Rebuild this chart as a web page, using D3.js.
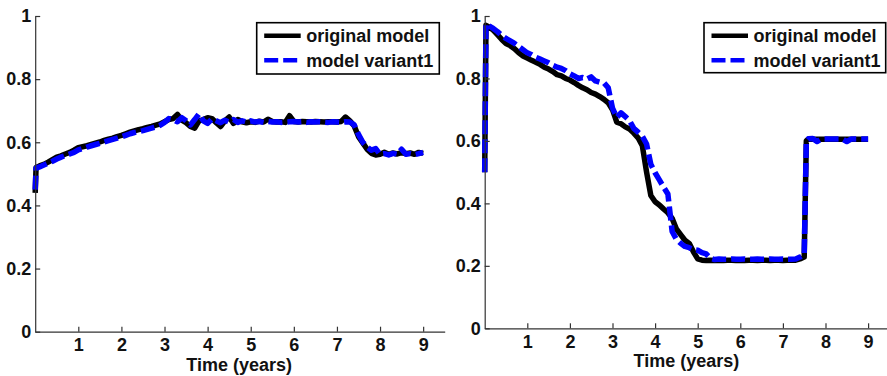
<!DOCTYPE html>
<html lang="en">
<head>
<meta charset="UTF-8">
<title>Model comparison</title>
<style>
  body { margin: 0; background: #fff; }
  svg { display: block; font-family: "Liberation Sans", Arial, sans-serif; }
  .axis text { font-size: 18px; font-weight: bold; fill: #111; }
  .axis path, .axis line { stroke: #333; stroke-width: 1.2; }
  .lbl { font-size: 18px; font-weight: bold; fill: #111; }
</style>
<script src="https://d3js.org/d3.v7.min.js"></script>
</head>
<body>
<svg id="chart" width="887" height="376"></svg>
<script>
// ---- data ----
const seriesNames = ["original model", "model variant1"];
const xTicks = [1, 2, 3, 4, 5, 6, 7, 8, 9];
const yTicks = [0, 0.2, 0.4, 0.6, 0.8, 1];

const leftTime = [0, 0.02, 0.1, 0.2, 0.3, 0.4, 0.5, 0.6, 0.7, 0.8, 0.9,
  1.0, 1.1, 1.2, 1.3, 1.4, 1.5, 1.6, 1.7, 1.8, 1.9,
  2.0, 2.1, 2.2, 2.3, 2.4, 2.5, 2.6, 2.7, 2.8, 2.9,
  3.0, 3.1, 3.2, 3.3, 3.4, 3.5, 3.6, 3.7, 3.8, 3.9,
  4.0, 4.1, 4.2, 4.3, 4.4, 4.5, 4.6, 4.7, 4.8, 4.9,
  5.0, 5.1, 5.2, 5.3, 5.4, 5.5, 5.6, 5.7, 5.8, 5.9,
  6.0, 6.1, 6.2, 6.3, 6.4, 6.5, 6.6, 6.7, 6.8, 6.9,
  7.0, 7.1, 7.2, 7.3, 7.4, 7.5, 7.6, 7.7, 7.8, 7.9,
  8.0, 8.1, 8.2, 8.3, 8.4, 8.5, 8.6, 8.7, 8.8, 8.9, 9.0];

const leftOriginal = [0.44, 0.52, 0.525, 0.53, 0.537, 0.545, 0.553, 0.557, 0.563, 0.568, 0.575,
  0.583, 0.586, 0.589, 0.593, 0.597, 0.601, 0.606, 0.610, 0.613, 0.618,
  0.622, 0.627, 0.632, 0.636, 0.640, 0.643, 0.647, 0.650, 0.654, 0.658,
  0.665, 0.672, 0.675, 0.688, 0.670, 0.662, 0.650, 0.645, 0.668, 0.672,
  0.678, 0.675, 0.662, 0.650, 0.668, 0.680, 0.660, 0.672, 0.665, 0.662,
  0.665, 0.663, 0.667, 0.664, 0.673, 0.666, 0.664, 0.665, 0.663, 0.684,
  0.666, 0.664, 0.666, 0.665, 0.664, 0.666, 0.665, 0.664, 0.665, 0.665,
  0.664, 0.666, 0.680, 0.668, 0.652, 0.618, 0.598, 0.578, 0.565, 0.560,
  0.562, 0.568, 0.562, 0.566, 0.563, 0.567, 0.564, 0.566, 0.562, 0.568, 0.565];

const leftVariant = [0.45, 0.518, 0.522, 0.528, 0.534, 0.540, 0.547, 0.553, 0.558, 0.563, 0.568,
  0.576, 0.580, 0.585, 0.589, 0.593, 0.597, 0.601, 0.605, 0.609, 0.613,
  0.617, 0.622, 0.627, 0.631, 0.634, 0.637, 0.641, 0.645, 0.649, 0.654,
  0.663, 0.675, 0.672, 0.665, 0.678, 0.668, 0.655, 0.672, 0.690, 0.668,
  0.660, 0.674, 0.668, 0.662, 0.670, 0.664, 0.672, 0.663, 0.668, 0.664,
  0.668, 0.664, 0.666, 0.663, 0.666, 0.664, 0.665, 0.663, 0.664, 0.665,
  0.666, 0.664, 0.665, 0.663, 0.665, 0.664, 0.665, 0.664, 0.663, 0.665,
  0.664, 0.663, 0.665, 0.664, 0.655, 0.625, 0.600, 0.585, 0.575, 0.580,
  0.562, 0.564, 0.560, 0.565, 0.562, 0.578, 0.562, 0.564, 0.561, 0.564, 0.568];

const rightTime = [0, 0.03, 0.1, 0.2, 0.3, 0.4, 0.5, 0.6, 0.7, 0.8, 0.9,
  1.0, 1.1, 1.2, 1.3, 1.4, 1.5, 1.6, 1.7, 1.8, 1.9,
  2.0, 2.1, 2.2, 2.3, 2.4, 2.5, 2.6, 2.7, 2.8, 2.9,
  3.0, 3.1, 3.2, 3.3, 3.4, 3.5, 3.6, 3.7, 3.8, 3.9,
  4.0, 4.1, 4.2, 4.3, 4.4, 4.5, 4.6, 4.7, 4.8, 4.9,
  5.0, 5.1, 5.2, 5.3, 5.4, 5.5, 5.6, 5.7, 5.8, 5.9,
  6.0, 6.1, 6.2, 6.3, 6.4, 6.5, 6.6, 6.7, 6.8, 6.9,
  7.0, 7.1, 7.2, 7.3, 7.4, 7.5, 7.55, 7.6, 7.7, 7.8, 7.9,
  8.0, 8.1, 8.2, 8.3, 8.4, 8.5, 8.6, 8.7, 8.8, 8.9, 9.0];

const rightOriginal = [0.50, 0.97, 0.965, 0.955, 0.940, 0.925, 0.912, 0.905, 0.895, 0.882, 0.872,
  0.865, 0.858, 0.852, 0.845, 0.836, 0.830, 0.822, 0.812, 0.808, 0.800,
  0.795, 0.787, 0.778, 0.770, 0.764, 0.755, 0.750, 0.742, 0.733, 0.722,
  0.700, 0.660, 0.655, 0.645, 0.638, 0.625, 0.610, 0.585, 0.500, 0.425,
  0.405, 0.395, 0.382, 0.370, 0.352, 0.318, 0.300, 0.282, 0.272, 0.245,
  0.222, 0.218, 0.217, 0.218, 0.217, 0.218, 0.217, 0.218, 0.218, 0.217,
  0.218, 0.217, 0.218, 0.218, 0.217, 0.218, 0.218, 0.217, 0.218, 0.218,
  0.217, 0.218, 0.218, 0.218, 0.222, 0.228, 0.600, 0.606, 0.605, 0.605, 0.605,
  0.605, 0.605, 0.605, 0.605, 0.605, 0.605, 0.605, 0.605, 0.605, 0.605, 0.605];

const rightVariant = [0.50, 0.975, 0.968, 0.960, 0.950, 0.938, 0.928, 0.920, 0.912, 0.902, 0.892,
  0.882, 0.876, 0.868, 0.862, 0.856, 0.850, 0.842, 0.836, 0.832, 0.825,
  0.815, 0.808, 0.800, 0.803, 0.798, 0.805, 0.792, 0.788, 0.786, 0.770,
  0.705, 0.675, 0.690, 0.678, 0.665, 0.640, 0.628, 0.615, 0.590, 0.525,
  0.498, 0.475, 0.452, 0.430, 0.310, 0.285, 0.272, 0.262, 0.258, 0.252,
  0.250, 0.242, 0.238, 0.224, 0.220, 0.222, 0.221, 0.221, 0.222, 0.221,
  0.221, 0.222, 0.221, 0.221, 0.222, 0.221, 0.221, 0.222, 0.221, 0.221,
  0.222, 0.221, 0.221, 0.222, 0.228, 0.235, 0.600, 0.607, 0.608, 0.598, 0.606,
  0.606, 0.606, 0.606, 0.606, 0.606, 0.598, 0.606, 0.606, 0.606, 0.606, 0.606];

// ---- drawing ----
const svg = d3.select("#chart");
const colors = ["#000000", "#0000ff"];

const panels = [
  { time: leftTime, series: [leftOriginal, leftVariant],
    x0: 35.2, x1: 444.7, yTop: 16, yBottom: 331.7,
    legend: { x: 256.7, y: 22.7, w: 182.6, h: 51.3 }, titleY: 371 },
  { time: rightTime, series: [rightOriginal, rightVariant],
    x0: 484.7, x1: 889.4, yTop: 16, yBottom: 328.3,
    legend: { x: 704, y: 22.7, w: 181.7, h: 50 }, titleY: 366.7 }
];

panels.forEach(p => {
  const x = d3.scaleLinear().domain([0, 9.5]).range([p.x0, p.x1]);
  const y = d3.scaleLinear().domain([0, 1]).range([p.yBottom, p.yTop]);
  const g = svg.append("g");

  const line = d3.line()
    .x((d, i) => x(p.time[i]))
    .y(d => y(d));

  p.series.forEach((vals, k) => {
    g.append("path")
      .datum(vals)
      .attr("d", line)
      .attr("fill", "none")
      .attr("stroke", colors[k])
      .attr("stroke-width", 5.5)
      .attr("stroke-linejoin", "round")
      .attr("stroke-dasharray", k === 1 ? "14,5" : null);
  });

  g.append("g")
    .attr("class", "axis")
    .attr("transform", `translate(0,${p.yBottom})`)
    .call(d3.axisBottom(x).tickValues(xTicks).tickSize(-5).tickSizeOuter(0).tickPadding(7)
      .tickFormat(d3.format("d")));

  g.append("g")
    .attr("class", "axis")
    .attr("transform", `translate(${p.x0},0)`)
    .call(d3.axisLeft(y).tickValues(yTicks).tickSize(-5).tickSizeOuter(0).tickPadding(4)
      .tickFormat(d3.format("~g")));

  g.append("text")
    .attr("class", "lbl")
    .attr("x", (x(0) + x(9)) / 2 + 10)
    .attr("y", p.titleY)
    .attr("text-anchor", "middle")
    .text("Time (years)");

  // legend
  const L = p.legend;
  const lg = g.append("g");
  lg.append("rect")
    .attr("x", L.x).attr("y", L.y).attr("width", L.w).attr("height", L.h)
    .attr("fill", "#fff").attr("stroke", "#000").attr("stroke-width", 1.6);
  seriesNames.forEach((name, k) => {
    const cy = L.y + 13 + k * 24.5;
    lg.append("line")
      .attr("x1", L.x + 7.5).attr("x2", L.x + 44)
      .attr("y1", cy).attr("y2", cy)
      .attr("stroke", colors[k]).attr("stroke-width", 4.5)
      .attr("stroke-dasharray", k === 1 ? "14,5" : null);
    lg.append("text")
      .attr("class", "lbl")
      .attr("x", L.x + 49.5)
      .attr("y", cy + 6.5)
      .text(name);
  });
});
</script>
</body>
</html>
